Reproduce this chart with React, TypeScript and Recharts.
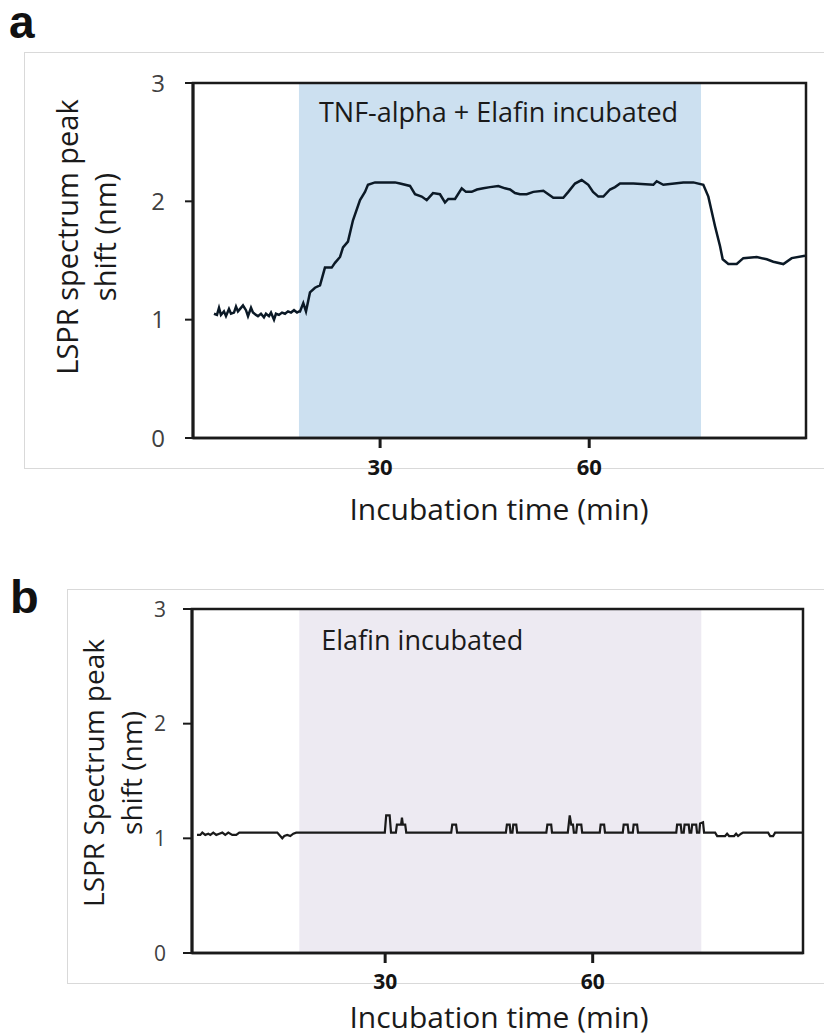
import { LineChart, Line, XAxis, YAxis, ReferenceArea } from 'recharts'

const FONT = '"Open Sans", sans-serif'

// panel a: TNF-alpha + Elafin
const TIME_A = [
  6.17, 6.6, 6.89, 7.17, 7.6, 7.89, 8.32, 8.61, 9.04, 9.33, 9.61, 10.04, 10.33, 10.76, 11.05, 11.48, 11.76,
  12.2, 12.48, 12.91, 13.34, 13.63, 14.06, 14.35, 14.78, 15.06, 15.49, 15.93, 16.36, 16.79, 17.22, 17.65,
  18.08, 18.36, 18.51, 18.98, 19.37, 19.94, 20.66, 21.38, 22.09, 23.06, 23.53, 24.25, 24.68, 25.39, 26.11,
  27.12, 27.83, 28.26, 29.27, 32.14, 32.86, 34.29, 35.01, 35.97, 36.69, 37.59, 38.59, 39.31, 39.78, 40.75,
  41.71, 42.32, 43.14, 43.9, 44.81, 45.77, 46.96, 47.92, 48.64, 49.35, 50.07, 51.03, 51.98, 53.42, 54.85,
  56.28, 57.0, 57.96, 58.92, 59.87, 60.55, 61.31, 62.03, 62.98, 63.7, 64.42, 66.33, 69.2, 69.68, 70.63,
  73.5, 74.94, 76.37, 77.09, 78.05, 78.77, 79.15, 79.96, 81.16, 82.11, 84.04, 85.47, 86.41, 87.85, 89.05, 90.96,
]
const SHIFT_A = [
  1.05, 1.04, 1.1, 1.04, 1.07, 1.03, 1.09, 1.05, 1.06, 1.11, 1.07, 1.1, 1.12, 1.08, 1.03, 1.1, 1.06,
  1.04, 1.03, 1.05, 1.02, 1.05, 1.03, 1.06, 1.0, 1.05, 1.04, 1.06, 1.05, 1.07, 1.06, 1.08,
  1.06, 1.07, 1.07, 1.14, 1.07, 1.23, 1.27, 1.29, 1.44, 1.44, 1.48, 1.53, 1.61, 1.66, 1.84,
  2.01, 2.08, 2.14, 2.16, 2.16, 2.15, 2.13, 2.06, 2.04, 2.01, 2.07, 2.06, 1.99, 2.02, 2.02,
  2.11, 2.08, 2.08, 2.1, 2.11, 2.12, 2.13, 2.11, 2.1, 2.07, 2.06, 2.06, 2.08, 2.09, 2.03,
  2.03, 2.08, 2.15, 2.18, 2.14, 2.08, 2.04, 2.04, 2.1, 2.12, 2.15, 2.15, 2.14, 2.17, 2.14,
  2.16, 2.16, 2.14, 2.04, 1.79, 1.62, 1.51, 1.47, 1.47, 1.52, 1.53, 1.51, 1.49, 1.47, 1.52, 1.54,
]

// panel b: Elafin only
const TIME_B = [
  2.8, 3.28, 3.57, 4.0, 4.44, 4.73, 5.16, 5.59, 6.03, 6.46, 6.89, 7.33, 7.9, 8.48, 8.92, 9.78,
  14.41, 14.84, 15.13, 15.42, 15.85, 16.29, 16.72, 17.15,
  29.95, 30.15, 30.65, 30.85,
  31.55, 31.7, 32.3, 32.43, 32.56, 32.9, 33.05,
  39.55, 39.7, 40.25, 40.4,
  47.45, 47.6, 48.0, 48.12, 48.4, 48.52, 48.95, 49.08,
  53.3, 53.45, 54.0, 54.12,
  56.4, 56.68, 56.9, 57.15, 57.28, 57.62, 57.75, 58.35, 58.48,
  61.02, 61.15, 61.65, 61.78,
  64.35, 64.48, 65.05, 65.18, 65.8, 65.92, 66.42, 66.55,
  72.08, 72.2, 72.72, 72.85, 73.16, 73.28, 73.88, 74.0,
  74.25, 74.38, 74.96, 75.08, 75.4, 75.52, 75.95, 76.1,
  77.7, 78.0, 79.14, 79.43, 79.72, 80.44, 80.73, 81.02, 81.45, 81.74,
  85.36, 85.65, 86.08, 86.37, 90.35,
]
const SHIFT_B = [
  1.03, 1.03, 1.05, 1.03, 1.04, 1.03, 1.05, 1.03, 1.04, 1.05, 1.03, 1.05, 1.03, 1.03, 1.05, 1.05,
  1.05, 1.02, 1.0, 1.02, 1.03, 1.02, 1.04, 1.05,
  1.05, 1.2, 1.2, 1.05,
  1.05, 1.12, 1.12, 1.18, 1.12, 1.12, 1.05,
  1.05, 1.12, 1.12, 1.05,
  1.05, 1.12, 1.12, 1.05, 1.05, 1.12, 1.12, 1.05,
  1.05, 1.12, 1.12, 1.05,
  1.05, 1.2, 1.12, 1.12, 1.05, 1.05, 1.12, 1.12, 1.05,
  1.05, 1.12, 1.12, 1.05,
  1.05, 1.12, 1.12, 1.05, 1.05, 1.12, 1.12, 1.05,
  1.05, 1.12, 1.12, 1.05, 1.05, 1.12, 1.12, 1.05,
  1.05, 1.12, 1.12, 1.05, 1.05, 1.13, 1.14, 1.05,
  1.05, 1.02, 1.02, 1.04, 1.02, 1.02, 1.04, 1.02, 1.04, 1.05,
  1.05, 1.02, 1.02, 1.05, 1.05,
]

const X_TICKS = [30, 60]
const Y_TICKS = [0, 1, 2, 3]
const DOMAIN_A = [3.16, 91.1]
const DOMAIN_B = [2.08, 90.4]
const SHADE_A = [18.36, 76.04]
const SHADE_B = [17.59, 75.7]

const dataA = TIME_A.map((t, i) => ({ t, v: SHIFT_A[i] }))
const dataB = TIME_B.map((t, i) => ({ t, v: SHIFT_B[i] }))

function YTitle({ lines, x0, gap, cy, size }: any) {
  return (
    <g>
      {lines.map((s: string, i: number) => {
        const x = x0 + i * gap
        return (
          <text key={i} x={x} y={cy} transform={`rotate(-90 ${x} ${cy})`} textAnchor="middle"
            fontSize={size} fontFamily={FONT} fill="#1a1a1a">{s}</text>
        )
      })}
    </g>
  )
}

function XTitle({ cx, base, size }: any) {
  return (
    <text x={cx} y={base} textAnchor="middle" fontSize={size} fontFamily={FONT} fill="#1a1a1a">
      Incubation time (min)
    </text>
  )
}

// tick text with explicit font (baseline given by offset from tick anchor)
function XTickText({ x, y, payload, size, drop }: any) {
  return (
    <text x={x} y={y + drop} textAnchor="middle" fontSize={size} fontWeight={700} fontFamily={FONT} fill="#141414">
      {payload.value}
    </text>
  )
}

function YTickText({ x, y, payload, size }: any) {
  return (
    <text x={x} y={y + size * 0.36} textAnchor="end" fontSize={size} fontFamily={FONT} fill="#404040">
      {payload.value}
    </text>
  )
}

function Panel({ data, domain, shade, shadeColor, note, lineColor, lineWidth, width, height, margin,
  yTick, xTick, yTitle, xTitleY, noteOffset, xTickMargin, yTickMargin, yTickSize, xDrop }: any) {
  return (
    <LineChart width={width} height={height} data={data} margin={margin}>
      <ReferenceArea x1={shade[0]} x2={shade[1]} y1={0} y2={3} fill={shadeColor} fillOpacity={1} stroke="none"
        label={{ value: note, position: 'insideTopLeft', offset: noteOffset, fontSize: 27, fontFamily: FONT, fill: '#1a1a1a' }} />
      <ReferenceArea x1={domain[0]} x2={domain[1]} y1={0} y2={3} fill="none" stroke="#1a1a1a" strokeWidth={2.5} />
      <XAxis dataKey="t" type="number" domain={domain} ticks={X_TICKS} height={60}
        axisLine={{ stroke: '#1a1a1a', strokeWidth: 2.5 }} tickLine={{ stroke: '#1a1a1a', strokeWidth: 3 }}
        tickSize={10} tickMargin={xTickMargin}
        tick={<XTickText size={xTick} drop={xDrop} />}
        label={<XTitle cx={499} base={xTitleY} size={30} />} />
      <YAxis type="number" domain={[0, 3]} ticks={Y_TICKS} width={60}
        axisLine={{ stroke: '#1a1a1a', strokeWidth: 3 }} tickLine={{ stroke: '#1a1a1a', strokeWidth: 2 }}
        tickSize={yTickSize} tickMargin={yTickMargin}
        tick={<YTickText size={yTick} />}
        label={<YTitle {...yTitle} />} />
      <Line dataKey="v" type="linear" stroke={lineColor} strokeWidth={lineWidth} dot={false} isAnimationActive={false} />
    </LineChart>
  )
}

export default function App() {
  return (
    <div style={{ position: 'absolute', left: 0, top: 0, width: 824, height: 1036, background: '#fff', overflow: 'hidden' }}>
      <div style={{ position: 'absolute', left: 24, top: 52, width: 820, height: 415, border: '1px solid #d9d9d9' }} />
      <div style={{ position: 'absolute', left: 67, top: 589, width: 780, height: 393, border: '1px solid #d9d9d9' }} />
      <svg width={824} height={1036} style={{ position: 'absolute', left: 0, top: 0 }}>
        <text x={9} y={38} fontFamily='"Liberation Sans", Arial, sans-serif' fontWeight={700} fontSize={46} fill="#111">a</text>
        <text x={10} y={613} fontFamily='"Liberation Sans", Arial, sans-serif' fontWeight={700} fontSize={47} fill="#111">b</text>
      </svg>

      <div style={{ position: 'absolute', left: 0, top: 0 }}>
        <Panel data={dataA} domain={DOMAIN_A} shade={SHADE_A} shadeColor="#cce0f0" note="TNF-alpha + Elafin incubated"
          lineColor="#0b1926" lineWidth={2.5} width={824} height={560}
          margin={{ top: 83, right: 18, bottom: 62, left: 133 }}
          yTick={24} xTick={22} xTickMargin={0} xDrop={27} yTickMargin={20} yTickSize={8} noteOffset={20} xTitleY={520}
          yTitle={{ lines: ['LSPR spectrum peak', 'shift (nm)'], x0: 78, gap: 38, cy: 237, size: 29 }} />
      </div>
      <div style={{ position: 'absolute', left: 0, top: 560 }}>
        <Panel data={dataB} domain={DOMAIN_B} shade={SHADE_B} shadeColor="#edeaf2" note="Elafin incubated"
          lineColor="#1a1a1a" lineWidth={2.2} width={824} height={476}
          margin={{ top: 49, right: 21, bottom: 23, left: 132 }}
          yTick={21} xTick={21} xTickMargin={0} xDrop={26} yTickMargin={17} yTickSize={9} noteOffset={22} xTitleY={468}
          yTitle={{ lines: ['LSPR Spectrum peak', 'shift (nm)'], x0: 104, gap: 38, cy: 213, size: 28 }} />
      </div>
    </div>
  )
}
